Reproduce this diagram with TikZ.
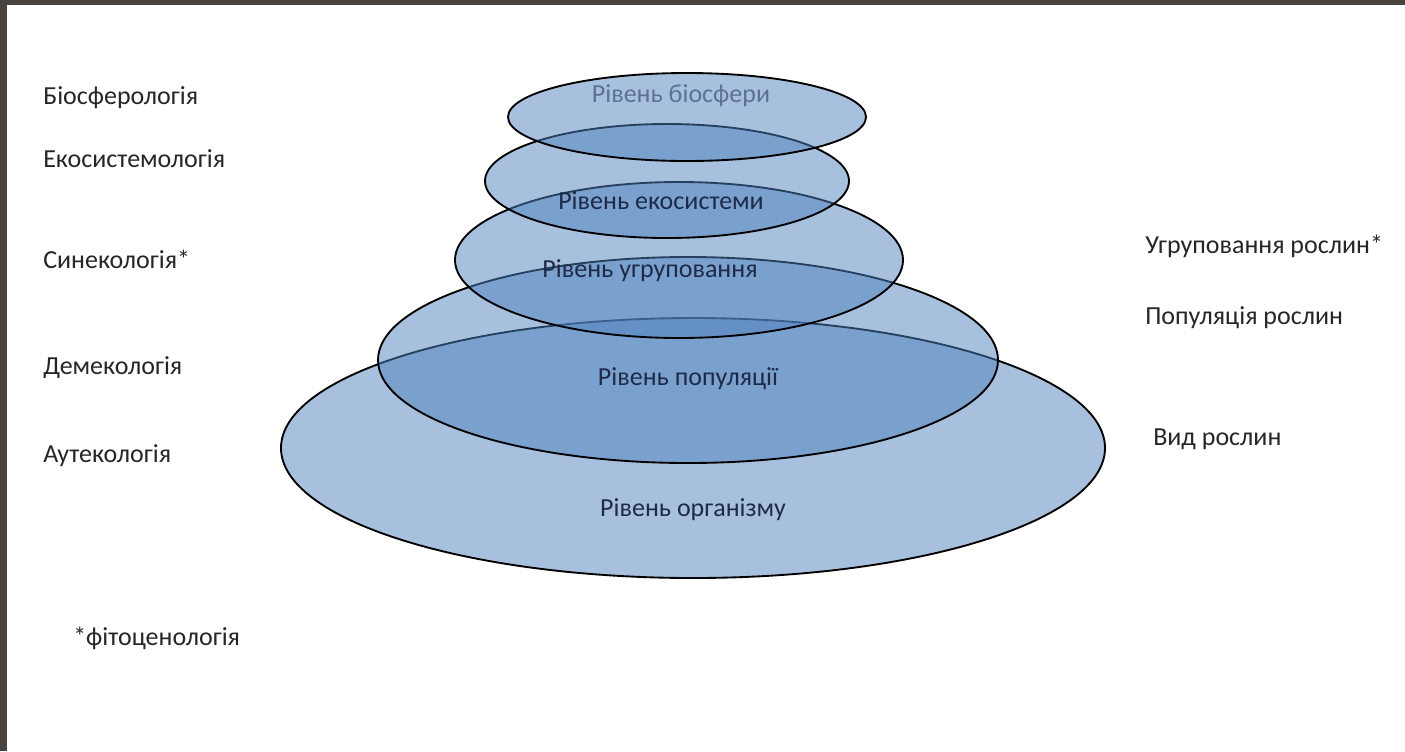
\documentclass[tikz,border=0pt]{standalone}
\usepackage{fontspec}
\setmainfont{Carlito}
\definecolor{levelblue}{HTML}{4F81BD}
\definecolor{framegray}{HTML}{49433F}
\definecolor{labelnavy}{HTML}{1E2A48}
\definecolor{topgray}{HTML}{5B7196}
\definecolor{textgray}{HTML}{262626}
\tikzset{
  levelring/.style={draw=black, line width=1.4pt, fill=levelblue, fill opacity=0.5},
  leveltext/.style={text=labelnavy, font=\fontsize{19.5}{23}\selectfont, inner sep=0pt},
  sidetext/.style={text=textgray, font=\fontsize{19.5}{23}\selectfont, inner sep=0pt, anchor=west}
}
\begin{document}
\begin{tikzpicture}[x=0.75pt, y=-0.75pt]
        \useasboundingbox (0, 0) rectangle (1405, 751);
        % frame
        \fill [framegray] (0, 0) rectangle (1405, 5);
        \fill [framegray] (0, 0) rectangle (7, 751);
        % levels, from the bottom up
        \draw [levelring] (693, 448) ellipse [x radius = 412, y radius = 130];
        \draw [levelring] (688, 360) ellipse [x radius = 310, y radius = 103];
        \draw [levelring] (679, 260) ellipse [x radius = 224, y radius = 78];
        \draw [levelring] (667, 181) ellipse [x radius = 182, y radius = 57];
        \draw [levelring] (687, 117) ellipse [x radius = 179, y radius = 44];
        % level names
        \node [leveltext, text = topgray] (biosfera) at (681, 96) {Рівень біосфери};
        \node [leveltext] (ekosystema) at (661, 201) {Рівень екосистеми};
        \node [leveltext] (ugrupovannya) at (650, 271) {Рівень угруповання};
        \node [leveltext] (populyatsiya) at (688, 379) {Рівень популяції};
        \node [leveltext] (organizm) at (693, 510) {Рівень організму};
        % sciences
        \node [sidetext] (biosferologiya) at (43, 98) {Біосферологія};
        \node [sidetext] (ekosystemologiya) at (43, 159) {Екосистемологія};
        \node [sidetext] (synekologiya) at (43, 259) {Синекологія*};
        \node [sidetext] (demekologiya) at (43, 368) {Демекологія};
        \node [sidetext] (autekologiya) at (43, 456) {Аутекологія};
        \node [sidetext] (fitotsenologiya) at (73, 638) {*фітоценологія};
        % plants
        \node [sidetext] (ugrupovannyaroslyn) at (1145, 246) {Угруповання рослин*};
        \node [sidetext] (populyatsiyaroslyn) at (1145, 318) {Популяція рослин};
        \node [sidetext] (vydroslyn) at (1153, 439) {Вид рослин};
      \end{tikzpicture}
\end{document}
